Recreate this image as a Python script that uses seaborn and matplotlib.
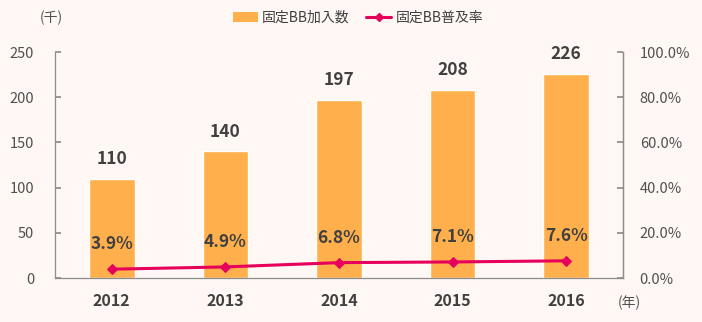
import numpy as np
import pandas as pd
import matplotlib
matplotlib.use("Agg")
import matplotlib.pyplot as plt
import seaborn as sns
from matplotlib.ticker import FuncFormatter, FixedLocator
from matplotlib.lines import Line2D
from matplotlib.patches import Patch

years = ["2012", "2013", "2014", "2015", "2016"]
subscribers = [110, 140, 197, 208, 226]
penetration = [3.9, 4.9, 6.8, 7.1, 7.6]
bar_label = "固定BB加入数"
line_label = "固定BB普及率"

sns.set_theme(style="white")
plt.rcParams['font.family'] = ['Noto Sans CJK JP', 'DejaVu Sans']

bg = "#FEF7F3"
bar_color = "#FFB04C"
line_color = "#E6005C"
txt = "#404040"
axc = "#8C8C8C"

fig = plt.figure(figsize=(7.02, 3.22), dpi=100, facecolor=bg)
ax = fig.add_axes([55 / 702, 1 - 278 / 322, 568 / 702, 226 / 322])
ax.set_facecolor(bg)

df = pd.DataFrame({"year": years, "subs": subscribers, "rate": penetration})
sns.barplot(data=df, x="year", y="subs", color=bar_color, width=0.40,
            saturation=1, ax=ax)
ax.set_xlim(-0.5, 4.5)
ax.set_ylim(0, 250)
ax.set_yticks([0, 50, 100, 150, 200, 250])
ax.set_xlabel("")
ax.set_ylabel("")
ax.spines["top"].set_visible(False)
for s in ["left", "bottom", "right"]:
    ax.spines[s].set_color(axc)
    ax.spines[s].set_linewidth(0.9)
ax.tick_params(axis="y", direction="in", length=4, color=axc, labelsize=10.5,
               labelcolor="#505050", pad=15)
ax.tick_params(axis="x", which="major", length=0, labelsize=11.5, labelcolor=txt, pad=11)
for lab in ax.get_xticklabels():
    lab.set_fontweight("bold")
ax.xaxis.set_minor_locator(FixedLocator([-0.5, 0.5, 1.5, 2.5, 3.5, 4.5]))
ax.tick_params(axis="x", which="minor", direction="out", length=5, color=axc, width=0.9)

for i, v in enumerate(subscribers):
    ax.text(i, v + 12, str(v), ha="center", va="bottom", fontsize=12.5,
            fontweight="bold", color=txt)

ax2 = ax.twinx()
sns.lineplot(x=np.arange(len(years)), y=np.array(penetration) / 100, ax=ax2,
             color=line_color, linewidth=2.2, marker="D", markersize=5,
             markeredgecolor=line_color)
ax2.set_ylim(0, 1)
ax2.set_yticks([0, 0.2, 0.4, 0.6, 0.8, 1.0])
ax2.yaxis.set_major_formatter(FuncFormatter(lambda v, p: f"{v*100:.1f}%"))
ax2.tick_params(axis="y", direction="in", length=4, color=axc, labelsize=10.5,
                labelcolor="#505050", pad=12)
ax2.set_ylabel("")
for s in ["top", "left", "bottom"]:
    ax2.spines[s].set_visible(False)
ax2.spines["right"].set_color(axc)
ax2.spines["right"].set_linewidth(0.9)
ax2.set_xlim(-0.5, 4.5)

for i, r in enumerate(penetration):
    ax2.text(i, r / 100 + 0.07, f"{r}%", ha="center", va="bottom", fontsize=12.5,
             fontweight="bold", color=txt)

fig.text(40 / 702, 1 - 18 / 322, "(千)", ha="left", va="center", fontsize=10, color="#505050")
fig.text(618 / 702, 1 - 303 / 322, "(年)", ha="left", va="center", fontsize=10, color="#505050")

handles = [Patch(facecolor=bar_color, edgecolor="none"),
           Line2D([0], [0], color=line_color, linewidth=2.2, marker="D", markersize=4)]
fig.legend(handles, [bar_label, line_label], loc="center", bbox_to_anchor=(0.51, 1 - 18 / 322),
           ncol=2, frameon=False, fontsize=10, handlelength=1.8, handleheight=0.7,
           columnspacing=1.2, handletextpad=0.3, labelcolor="#404040")

fig.savefig("out.png", dpi=100, facecolor=bg)
